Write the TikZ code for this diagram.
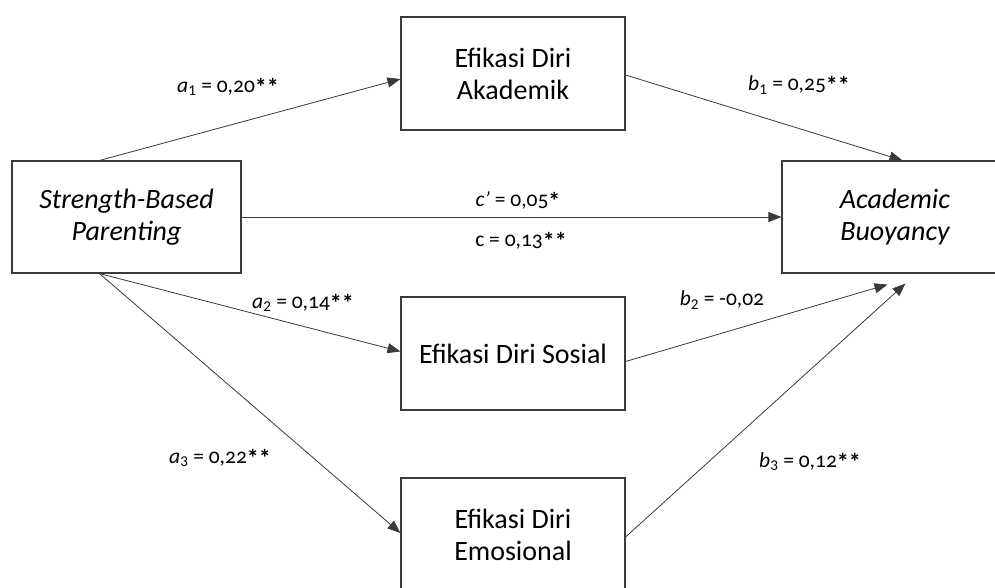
\documentclass[tikz,border=0pt]{standalone}
\usepackage{fontspec}
\setmainfont{Carlito}[Numbers=OldStyle]
\usetikzlibrary{arrows.meta}
\definecolor{linegray}{HTML}{3A3A3A}
\newcommand{\lbsub}[1]{\textsubscript{\normalfont\addfontfeatures{Numbers=Lining}#1}}
\newcommand{\lbstar}[1]{\raisebox{-3pt}{\fontsize{24}{24}\selectfont\bfseries #1}}
\begin{document}
\begin{tikzpicture}[x=1pt,y=-1pt,
  varbox/.style={draw=linegray, line width=1.1pt, minimum width=#1, align=center, inner sep=0pt,
    font=\fontsize{28}{32}\selectfont},
  arr/.style={draw=linegray, line width=0.8pt, -{Triangle[length=13pt,width=10pt]}},
  lbl/.style={font=\fontsize{21.5}{24}\selectfont, inner sep=0pt}]
\useasboundingbox (0,0) rectangle (995,588);
\clip (0,0) rectangle (995,588);
\fill[white] (0,0) rectangle (995,588);
% boxes
\node[varbox=229pt, minimum height=112pt] (sbp) at (126.5,217) {\itshape Strength-Based\\\itshape Parenting};
\node[varbox=224pt, minimum height=113pt] (aka) at (513,73.5) {Efikasi Diri\\Akademik};
\node[varbox=224pt, minimum height=113pt] (sos) at (513,353.5) {Efikasi Diri Sosial};
\node[varbox=224pt, minimum height=114pt] (emo) at (513,535) {Efikasi Diri\\Emosional};
\node[varbox=226pt, minimum height=112pt] (ab) at (895,217) {\itshape Academic\\\itshape Buoyancy};
% connectors
\draw[arr] ([xshift=88pt]sbp.north west) -- ([yshift=-5.5pt]aka.west);
\draw[arr] (sbp.east) -- (ab.west);
\draw[arr] ([yshift=-1.5pt]aka.east) -- ([xshift=121pt]ab.north west);
\draw[arr] ([xshift=88pt]sbp.south west) -- ([yshift=2pt]sos.west);
\draw[arr] ([xshift=88pt]sbp.south west) -- ([yshift=2pt]emo.west);
\draw[arr] ([yshift=-8pt]sos.east) -- ([xshift=106pt,yshift=-11pt]ab.south west);
\draw[arr] ([yshift=-2pt]emo.east) -- ([xshift=124pt,yshift=-10pt]ab.south west);
% labels
\node[lbl] (la1) at (228,87) {\textit{a}\lbsub{1} = 0,20\lbstar{**}};
\node[lbl] (lb1) at (799,85) {\textit{b}\lbsub{1} = 0,25\lbstar{**}};
\node[lbl] (lcp) at (518,201) {\textit{c’} = 0,05\lbstar{*}};
\node[lbl] (lc) at (521,241) {c = 0,13\lbstar{**}};
\node[lbl] (la2) at (303,303) {\textit{a}\lbsub{2} = 0,14\lbstar{**}};
\node[lbl] (lb2) at (722,300) {\textit{b}\lbsub{2} = -0,02};
\node[lbl] (la3) at (220,458) {\textit{a}\lbsub{3} = 0,22\lbstar{**}};
\node[lbl] (lb3) at (810,462) {\textit{b}\lbsub{3} = 0,12\lbstar{**}};
\end{tikzpicture}
\end{document}
